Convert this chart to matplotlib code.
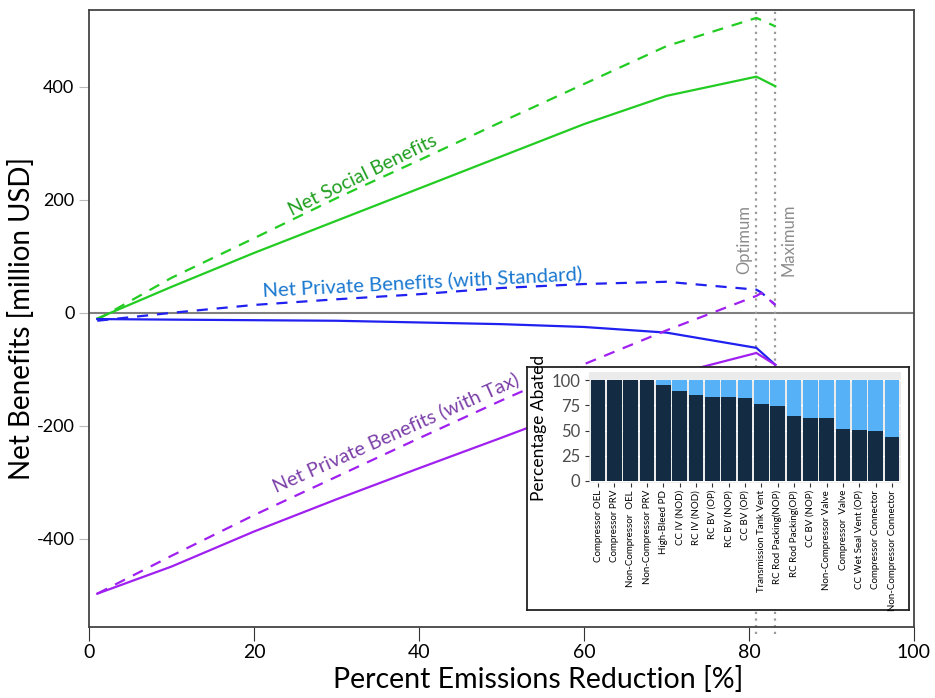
import matplotlib
matplotlib.use("Agg")
import matplotlib.pyplot as plt

plt.rcParams['font.family'] = ['Lato', 'DejaVu Sans']
plt.rcParams['axes.unicode_minus'] = False

# Emissions reduction points [%]
x_pts = [1, 10, 20, 30, 40, 50, 60, 70, 80.9, 83.2]
x_pts_dash = [1, 10, 20, 30, 40, 50, 60, 70, 80.9, 81.5, 83.2]

# Net benefits [million USD]
social_solid = [-10, 46, 106, 163, 220, 277, 334, 384, 418, 401]
social_dash = [-12, 62, 132, 203, 270, 338, 405, 472, 522, 507]
std_solid = [-11, -12, -13, -14, -17, -20, -25, -35, -62, -92]
std_dash = [-14, 0, 14, 24, 33, 44, 51, 55, 41, 36, 14]
tax_solid = [-497, -449, -387, -330, -275, -221, -166, -112, -71, -92]
tax_dash = [-497, -430, -358, -290, -222, -155, -91, -31, 30, 35, 14]

OPTIMUM = 80.9
MAXIMUM = 83.2

# Inset: share of each source abated
sources = ['Compressor OEL', 'Compressor PRV', 'Non-Compressor  OEL',
           'Non-Compressor PRV', 'High-Bleed PD', 'CC IV (NOD)', 'RC IV (NOD)',
           'RC BV (OP)', 'RC BV (NOP)', 'CC BV (OP)', 'Transmission Tank Vent',
           'RC Rod Packing(NOP)', 'RC Rod Packing(OP)', 'CC BV (NOP)',
           'Non-Compressor Valve', 'Compressor  Valve', 'CC Wet Seal Vent (OP)',
           'Compressor Connector', 'Non-Compressor Connector']
abated = [100, 100, 100, 100, 95, 89, 85, 83, 83, 82, 76, 74, 64, 62, 62,
          52, 51, 50, 44]

GREEN = '#22cc22'
BLUE = '#2020f0'
PURPLE = '#a020f0'

fig = plt.figure(figsize=(9.35, 6.98), dpi=100)
ax = fig.add_axes([0.0952, 0.1017, 0.8823, 0.884])

dash = (0, (5, 4))
ax.axhline(0, color='#808080', lw=1.5, zorder=1)
ax.plot(x_pts, social_solid, color=GREEN, lw=1.6)
ax.plot(x_pts, social_dash, color=GREEN, lw=1.6, linestyle=dash)
ax.plot(x_pts, std_solid, color=BLUE, lw=1.6)
ax.plot(x_pts_dash, std_dash, color=BLUE, lw=1.6, linestyle=dash)
ax.plot(x_pts, tax_solid, color=PURPLE, lw=1.6)
ax.plot(x_pts_dash, tax_dash, color=PURPLE, lw=1.6, linestyle=dash)

for xv in (OPTIMUM, MAXIMUM):
    ax.axvline(xv, color='#9a9a9a', lw=1.6, linestyle=(0, (1, 2)), zorder=1,
               clip_on=False, ymin=-0.012)
ax.text(OPTIMUM - 0.5, 130, 'Optimum', rotation=90, ha='right', va='center',
        color='#8c8c8c', fontsize=12)
ax.text(MAXIMUM + 0.6, 130, 'Maximum', rotation=90, ha='left', va='center',
        color='#8c8c8c', fontsize=12)

ax.text(33.2, 243, 'Net Social Benefits', rotation=26, ha='center', va='center',
        color='#1e9e1e', fontsize=14)
ax.text(40.4, 55, 'Net Private Benefits (with Standard)', rotation=3,
        ha='center', va='center', color='#1a78d0', fontsize=14.6)
ax.text(37.2, -212, 'Net Private Benefits (with Tax)', rotation=24,
        ha='center', va='center', color='#7b3fa8', fontsize=14.3)

ax.set_xlim(0, 100)
ax.set_ylim(-556, 536)
ax.set_xticks([0, 20, 40, 60, 80, 100])
ax.set_yticks([-400, -200, 0, 200, 400])
ax.tick_params(axis='y', length=7, color='#bbbbbb', labelsize=13)
ax.tick_params(axis='x', length=10, color='#333333', labelsize=14, pad=2)
for side in ('top', 'left', 'right', 'bottom'):
    ax.spines[side].set_color('#444444')
    ax.spines[side].set_linewidth(1.3)
ax.set_xlabel('Percent Emissions Reduction [%]', fontsize=20.5, labelpad=4)
ax.xaxis.label.set_x(0.545)
ax.set_ylabel('Net Benefits [million USD]', fontsize=20, labelpad=1)

# Inset frame and stacked bars
box = fig.add_axes([0.5636, 0.1261, 0.4086, 0.3481])
box.set_zorder(5)
box.set_xticks([])
box.set_yticks([])
box.set_facecolor('white')
for s in box.spines.values():
    s.set_color('#222222')
    s.set_linewidth(1.3)

ins = fig.add_axes([0.630, 0.308, 0.3337, 0.159])
ins.set_zorder(6)
ins.set_facecolor('#ebebeb')
pos = range(len(sources))
ins.bar(pos, [100] * len(sources), width=0.9, color='#56b1f7', zorder=2)
ins.bar(pos, abated, width=0.9, color='#132b43', zorder=3)
ins.set_xlim(-0.55, len(sources) - 0.45)
ins.set_ylim(-2, 108)
ins.set_yticks([0, 25, 50, 75, 100])
ins.set_xticks(list(pos))
ins.set_xticklabels(sources, rotation=90, fontsize=7)
ins.tick_params(axis='y', labelsize=12, labelcolor='#4d4d4d', length=3, color='#333333')
ins.tick_params(axis='x', length=3, color='#333333', pad=2)
ins.grid(axis='y', color='white', lw=1, zorder=1)
for s in ins.spines.values():
    s.set_visible(False)
ins.set_ylabel('Percentage Abated', fontsize=12.5, labelpad=3)

fig.savefig('out.png', dpi=100)
